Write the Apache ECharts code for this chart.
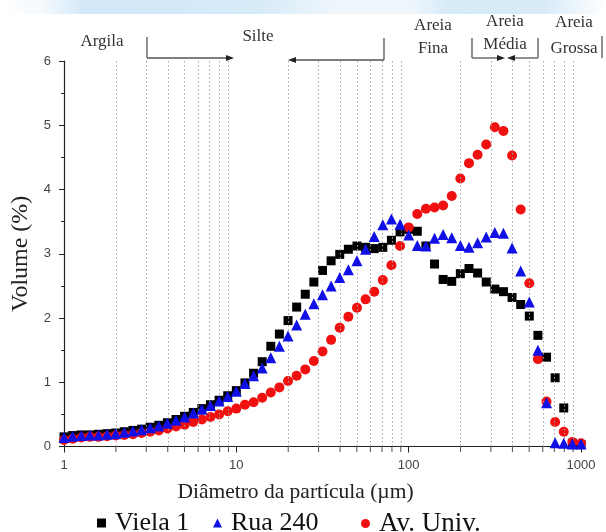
<!DOCTYPE html>
<html><head><meta charset="utf-8">
<script src="https://cdn.jsdelivr.net/npm/echarts@6/dist/echarts.min.js"></script>
<style>html,body{margin:0;padding:0;background:#fff}#c{width:606px;height:532px}</style>
</head><body><div id="c"></div>
<script>
// particle diameters (µm), log-spaced measurement classes
const diameters = [1, 1.122, 1.259, 1.413, 1.585, 1.778, 1.995, 2.239, 2.512, 2.818,
  3.162, 3.548, 3.981, 4.467, 5.012, 5.623, 6.310, 7.079, 7.943, 8.913,
  10, 11.22, 12.59, 14.13, 15.85, 17.78, 19.95, 22.39, 25.12, 28.18,
  31.62, 35.48, 39.81, 44.67, 50.12, 56.23, 63.10, 70.79, 79.43, 89.13,
  100, 112.2, 125.9, 141.3, 158.5, 177.8, 199.5, 223.9, 251.2, 281.8,
  316.2, 354.8, 398.1, 446.7, 501.2, 562.3, 631.0, 707.9, 794.3, 891.3, 1000];

const viela1 = [0.15, 0.17, 0.18, 0.18, 0.19, 0.20, 0.21, 0.23, 0.25, 0.27,
  0.30, 0.33, 0.37, 0.42, 0.47, 0.53, 0.59, 0.65, 0.72, 0.79,
  0.87, 0.99, 1.14, 1.32, 1.56, 1.75, 1.96, 2.17, 2.37, 2.56,
  2.74, 2.89, 2.99, 3.07, 3.12, 3.10, 3.08, 3.10, 3.21, 3.34,
  3.38, 3.35, 3.12, 2.84, 2.60, 2.57, 2.69, 2.77, 2.70, 2.56,
  2.45, 2.41, 2.32, 2.21, 2.03, 1.73, 1.39, 1.07, 0.60, 0.05, 0.03];

const rua240 = [0.14, 0.16, 0.17, 0.18, 0.18, 0.19, 0.20, 0.22, 0.24, 0.26,
  0.29, 0.32, 0.36, 0.41, 0.46, 0.52, 0.58, 0.64, 0.71, 0.78,
  0.86, 0.98, 1.10, 1.22, 1.38, 1.56, 1.72, 1.89, 2.06, 2.22,
  2.36, 2.50, 2.63, 2.75, 2.89, 3.07, 3.27, 3.45, 3.54, 3.46,
  3.29, 3.13, 3.12, 3.24, 3.30, 3.25, 3.13, 3.10, 3.17, 3.26,
  3.33, 3.32, 3.09, 2.73, 2.25, 1.50, 0.68, 0.06, 0.05, 0.04, 0.04];

const avUniv = [0.10, 0.12, 0.14, 0.15, 0.15, 0.16, 0.17, 0.18, 0.19, 0.21,
  0.23, 0.25, 0.28, 0.31, 0.34, 0.38, 0.42, 0.46, 0.50, 0.55,
  0.59, 0.65, 0.69, 0.76, 0.84, 0.92, 1.02, 1.10, 1.20, 1.33,
  1.48, 1.66, 1.85, 2.02, 2.16, 2.29, 2.41, 2.59, 2.82, 3.12,
  3.41, 3.62, 3.70, 3.72, 3.75, 3.90, 4.17, 4.41, 4.54, 4.70,
  4.97, 4.91, 4.53, 3.69, 2.54, 1.36, 0.70, 0.38, 0.23, 0.07, 0.05];

const seriesNames = ['Viela 1', 'Rua 240', 'Av. Univ.'];
const xTickLabels = ['1', '10', '100', '1000'];
const minorGridValues = [2, 3, 4, 5, 6, 7, 8, 9, 20, 30, 40, 50, 60, 70, 80, 90,
  200, 300, 400, 500, 600, 700, 800, 900];

const pairs = arr => diameters.map((d, i) => [d, arr[i]]).filter(p => p[1] != null);

const serif = 'Liberation Serif';
const sans = 'Liberation Sans';
const chart = echarts.init(document.getElementById('c'), null, {renderer: 'canvas'});

function arrowHead(tipX, y, dir) {
  return {type: 'polygon', silent: true,
    shape: {points: [[tipX, y], [tipX - dir * 8, y - 3], [tipX - dir * 8, y + 3]]},
    style: {fill: '#222'}};
}
function seg(x1, y1, x2, y2) {
  return {type: 'line', silent: true, shape: {x1, y1, x2, y2},
    style: {stroke: '#555', lineWidth: 1.3}};
}
function txt(x, y, s) {
  return {type: 'text', silent: true, x, y,
    style: {text: s, font: '17px "Liberation Serif"', fill: '#333', align: 'center', verticalAlign: 'middle'}};
}
function legendAt(left, name, icon, size) {
  return {left, top: 505, itemWidth: 9, itemHeight: 9, selectedMode: false,
    textStyle: {fontFamily: serif, fontSize: size, color: '#111', padding: [0, 0, 0, 4]},
    data: [{name, icon}]};
}

const option = {
  backgroundColor: '#fff',
  animation: false,
  grid: {left: 64, right: 25, top: 61, bottom: 85.5, containLabel: false},
  xAxis: {
    type: 'log', logBase: 10, min: 1, max: 1000,
    name: 'Diâmetro da partícula (µm)', nameLocation: 'middle', nameGap: 35,
    nameTextStyle: {fontFamily: serif, fontSize: 21.5, color: '#222', padding: [0, 54, 0, 0]},
    axisLine: {show: true, lineStyle: {color: '#222', width: 1.2}},
    axisTick: {show: true, length: 6, inside: false, lineStyle: {color: '#222'}},
    axisLabel: {fontFamily: sans, fontSize: 13, color: '#444', margin: 12,
      formatter: v => xTickLabels[Math.round(Math.log10(v))]},
    splitLine: {show: false}
  },
  yAxis: {
    type: 'value', min: 0, max: 6, interval: 1,
    name: 'Volume (%)', nameLocation: 'middle', nameGap: 29,
    nameTextStyle: {fontFamily: serif, fontSize: 24, color: '#222'},
    axisLine: {show: true, lineStyle: {color: '#222', width: 1.2}},
    axisTick: {show: true, length: 5, lineStyle: {color: '#222'}},
    minorTick: {show: true, splitNumber: 2, length: 3, lineStyle: {color: '#222'}},
    axisLabel: {fontFamily: sans, fontSize: 13, color: '#444', margin: 13},
    splitLine: {show: false}
  },
  legend: [
    legendAt(92, 'Viela 1', 'rect', 26),
    legendAt(208, 'Rua 240', 'triangle', 26),
    legendAt(356, 'Av. Univ.', 'circle', 27)
  ],
  series: [
    {
      name: 'minor', type: 'scatter', silent: true, clip: false, z: 1,
      symbol: 'rect', symbolSize: [1, 5], symbolOffset: [0, 3],
      itemStyle: {color: '#222'},
      data: minorGridValues.map(v => [v, 0]),
      markLine: {
        silent: true, symbol: ['none', 'none'], label: {show: false},
        lineStyle: {type: [1.5, 2.5], color: '#a0a0a0', width: 1},
        emphasis: {disabled: true},
        data: minorGridValues.map(v => ({xAxis: v}))
      }
    },
    {name: seriesNames[0], type: 'scatter', symbol: 'rect', symbolSize: 9, z: 3,
      itemStyle: {color: '#000000', opacity: 1}, data: pairs(viela1)},
    {name: seriesNames[2], type: 'scatter', symbol: 'circle', symbolSize: 10, z: 4,
      itemStyle: {color: '#f01010', opacity: 1}, data: pairs(avUniv)},
    {name: seriesNames[1], type: 'scatter', symbol: 'triangle', symbolSize: 11, z: 5,
      itemStyle: {color: '#1010e6', opacity: 1}, data: pairs(rua240)}
  ],
  graphic: [
    {type: 'rect', silent: true, z: -1, shape: {x: 0, y: 0, width: 606, height: 14},
      style: {fill: new echarts.graphic.LinearGradient(0, 0, 1, 0, [
        {offset: 0, color: '#ffffff'}, {offset: 0.07, color: '#f4f9fd'},
        {offset: 0.14, color: '#d3e8f8'}, {offset: 0.42, color: '#d6eaf8'},
        {offset: 0.55, color: '#eef6fc'}, {offset: 0.68, color: '#eef6fc'},
        {offset: 0.74, color: '#d6eaf8'}, {offset: 0.9, color: '#d9ebf8'},
        {offset: 1, color: '#ffffff'}])}},
    txt(102, 42, 'Argila'),
    seg(147, 37, 147, 58), seg(147, 58, 228, 58), arrowHead(234, 58, 1),
    txt(258, 37, 'Silte'),
    seg(294, 60, 384, 60), seg(384, 38, 384, 60), arrowHead(288, 60, -1),
    txt(433, 26, 'Areia'), txt(433, 49, 'Fina'),
    txt(505, 22, 'Areia'), txt(505, 45, 'Média'),
    seg(472, 38, 472, 58), seg(538, 38, 538, 58), seg(472, 58, 500, 58), seg(511, 58, 538, 58),
    arrowHead(505, 58, 1), arrowHead(507, 58, -1),
    txt(574, 23, 'Areia'), txt(574, 49, 'Grossa'),
    seg(602, 36, 602, 58)
  ]
};
chart.setOption(option);
</script>
</body></html>
